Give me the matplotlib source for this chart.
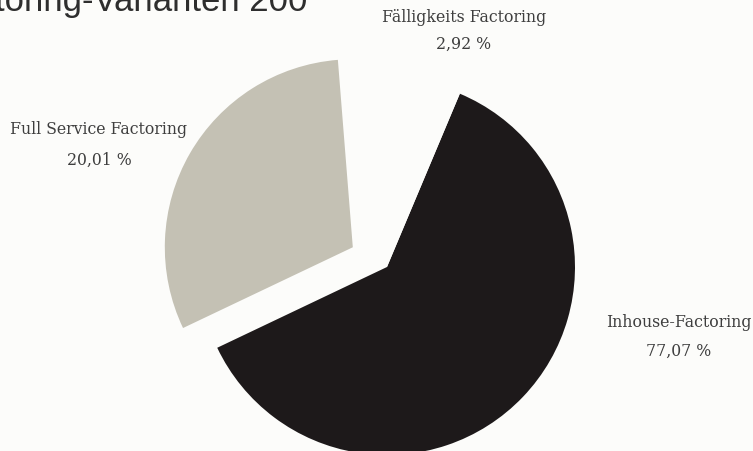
import matplotlib
matplotlib.use("Agg")
import matplotlib.pyplot as plt

# Data
categories = ["Inhouse-Factoring", "Full Service Factoring", "Fälligkeits Factoring"]
share_labels = ["77,07 %", "20,01 %", "2,92 %"]
# wedge sizes as drawn in the reference graphic
drawn_sizes = [61.6, 30.8, 7.6]
colors = ["#1d191a", "#c4c1b4", "#fcfcfa"]
explode = [0.0, 0.21, 0.0]
title = "Factoring-Varianten 200"

W, H = 753, 452
bg = "#fcfcfa"
fig = plt.figure(figsize=(W / 100, H / 100), dpi=100, facecolor=bg)

cx, cy, r = 387, 268, 188
ax = fig.add_axes([(cx - r) / W, (H - cy - r) / H, 2 * r / W, 2 * r / H])
ax.set_facecolor(bg)
wedges, _ = ax.pie(drawn_sizes, colors=colors, explode=explode, startangle=67.2,
                   counterclock=False, radius=1.0,
                   wedgeprops=dict(linewidth=0))
for w in wedges:
    w.set_clip_on(False)
ax.set_xlim(-1, 1)
ax.set_ylim(-1, 1)
ax.set_aspect("equal")
ax.axis("off")

lab_color = "#3e3e3e"
font = dict(family="DejaVu Serif", size=11.3, color=lab_color)
label_pos = {
    "Fälligkeits Factoring": (464, 18, 44),
    "Full Service Factoring": (99, 129, 160),
    "Inhouse-Factoring": (679, 323, 351),
}
for cat, pct in zip(categories, share_labels):
    x, y1, y2 = label_pos[cat]
    fig.text(x / W, 1 - y1 / H, cat, ha="center", va="center", **font)
    fig.text(x / W, 1 - y2 / H, pct, ha="center", va="center", **font)

fig.text(307 / W, 1 - 11 / H, title, ha="right", va="baseline",
         family="Liberation Sans", fontsize=25, color="#2e2e2e")

fig.savefig("out.png", dpi=100, facecolor=bg)
